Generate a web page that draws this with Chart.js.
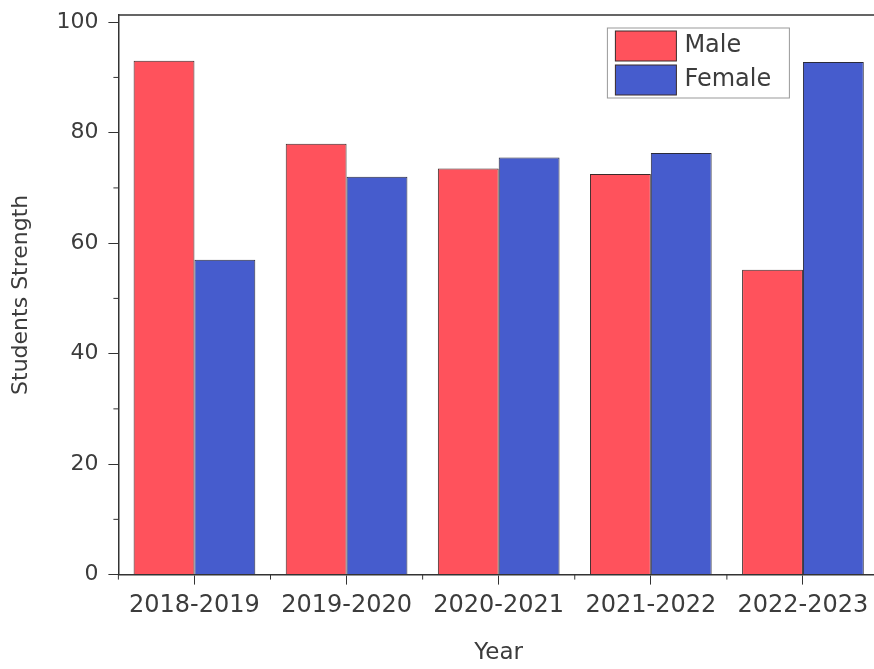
<!DOCTYPE html>
<html>
<head>
<meta charset="utf-8">
<script src="https://cdn.jsdelivr.net/npm/chart.js@4/dist/chart.umd.min.js"></script>
<style>
  html, body { margin: 0; padding: 0; background: #fff; overflow: hidden; }
  #wrap { width: 884px; height: 669px; position: relative; }
</style>
</head>
<body>
<div id="wrap"><canvas id="studentsChart"></canvas></div>
<script>
const years = ['2018-2019', '2019-2020', '2020-2021', '2021-2022', '2022-2023'];
const male = [93, 78, 73.5, 72.5, 55.2];
const female = [57, 72, 75.5, 76.3, 92.8];
const majorYTicks = [0, 20, 40, 60, 80, 100];
const minorYTicks = [10, 30, 50, 70, 90];

const axisColor = '#333';
const textColor = '#3c3c3c';
const maleColor = 'rgb(255, 82, 92)';
const femaleColor = 'rgb(70, 92, 205)';

Chart.defaults.font.family = '"DejaVu Sans", sans-serif';
Chart.defaults.color = textColor;

// top/right frame, minor ticks and the boxed legend inside the plot
const frameAndLegend = {
  id: 'frameAndLegend',
  afterDraw(chart) {
    const { ctx, chartArea: a, scales: { x, y } } = chart;
    ctx.save();
    ctx.strokeStyle = axisColor;
    ctx.lineWidth = 1.5;
    ctx.beginPath();
    ctx.moveTo(a.left, a.top);
    ctx.lineTo(a.right, a.top);
    ctx.lineTo(a.right, a.bottom);
    ctx.stroke();

    ctx.lineWidth = 1;
    ctx.beginPath();
    for (const v of minorYTicks) {
      const py = y.getPixelForValue(v);
      ctx.moveTo(a.left - 5, py);
      ctx.lineTo(a.left, py);
    }
    for (let i = 0; i <= years.length; i++) {
      const px = x.getPixelForValue(i - 0.5);
      ctx.moveTo(px, a.bottom);
      ctx.lineTo(px, a.bottom + 5);
    }
    ctx.stroke();

    // legend
    const lx = a.left + 489, ly = a.top + 13, lw = 182, lh = 70;
    ctx.strokeStyle = '#999';
    ctx.lineWidth = 1;
    ctx.strokeRect(lx, ly, lw, lh);
    const items = chart.data.datasets;
    items.forEach((ds, i) => {
      const sy = ly + 3 + i * 34;
      ctx.fillStyle = ds.backgroundColor;
      ctx.fillRect(lx + 8, sy, 61, 30);
      ctx.strokeStyle = '#3a2a2a';
      ctx.strokeRect(lx + 8, sy, 61, 30);
      ctx.fillStyle = textColor;
      ctx.font = '24px "DejaVu Sans", sans-serif';
      ctx.textBaseline = 'middle';
      ctx.textAlign = 'left';
      ctx.fillText(ds.label, lx + 77, sy + 15);
    });
    ctx.restore();
  }
};

new Chart(document.getElementById('studentsChart'), {
  type: 'bar',
  data: {
    labels: years,
    datasets: [
      { label: 'Male', data: male, backgroundColor: maleColor, borderColor: '#3a2a2a', borderWidth: 1 },
      { label: 'Female', data: female, backgroundColor: femaleColor, borderColor: '#2a2a3a', borderWidth: 1 }
    ]
  },
  options: {
    responsive: true,
    maintainAspectRatio: false,
    animation: false,
    layout: { padding: { top: 15, right: 5, left: 0, bottom: 0 } },
    datasets: { bar: { categoryPercentage: 0.8, barPercentage: 1.0 } },
    plugins: {
      legend: { display: false },
      tooltip: { enabled: false }
    },
    scales: {
      x: {
        border: { color: axisColor, width: 1.5 },
        grid: { drawOnChartArea: false, offset: false, tickLength: 10, tickColor: axisColor },
        ticks: { font: { size: 24 }, padding: 7, color: textColor, maxRotation: 0 },
        title: { display: true, text: 'Year', font: { size: 23 }, color: textColor, padding: { top: 12, bottom: 2 } }
      },
      y: {
        min: 0,
        max: 101.3,
        border: { color: axisColor, width: 1.5 },
        grid: { drawOnChartArea: false, tickLength: 10, tickColor: axisColor },
        afterBuildTicks: (scale) => {
          scale.ticks = majorYTicks.map(v => ({ value: v }));
        },
        afterFit: (scale) => {
          scale.paddingTop = 0;
        },
        ticks: { font: { size: 22 }, padding: 10, color: textColor },
        title: { display: true, text: 'Students Strength', font: { size: 22 }, color: textColor, padding: { top: 8, bottom: 12 } }
      }
    }
  },
  plugins: [frameAndLegend]
});
</script>
</body>
</html>
